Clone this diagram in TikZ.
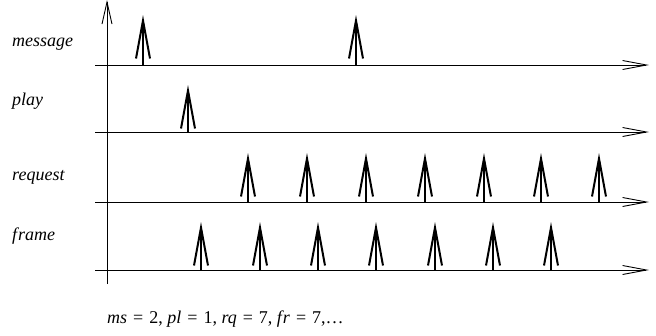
\documentclass[tikz,border=0pt]{standalone}
\usepackage{fontspec}
\setmainfont{Liberation Serif}
\usetikzlibrary{arrows.meta}
\newcommand{\myeq}{\kern1.5pt{} = {}\kern1.5pt}
\begin{document}
\begin{tikzpicture}[x=1pt,y=-1pt,
  axis/.style={line width=1pt,-{Straight Barb[length=24pt,width=9pt,line width=0.9pt]}},
  vaxis/.style={line width=0.9pt,-{Straight Barb[length=22pt,width=10pt,line width=0.9pt]}},
  event/.style={line width=2pt,-{Straight Barb[length=38pt,width=14pt,line width=2pt]}},
  lab/.style={anchor=base west,inner sep=0pt,font=\fontsize{18}{20}\selectfont\itshape}]
\useasboundingbox (0,0) rectangle (656,335);
% vertical axis
\coordinate (v0) at (107,284);
\coordinate (v1) at (107,0);
\draw[vaxis] (v0) -- (v1);
% horizontal axes
\foreach \y/\n in {65/m,132/p,202/r,270/f}{
  \coordinate (\n0) at (95,\y);
  \coordinate (\n1) at (649,\y);
  \draw[axis] (\n0) -- (\n1);
}
% labels
\node[lab] (lm) at (12,46.5) {message};
\node[lab] (lp) at (12,105) {play};
\node[lab] (lr) at (12,180.5) {request};
\node[lab] (lf) at (12,240) {f\kern1pt rame};
% events
\foreach \x in {143,356}{\draw[event] (\x,65) -- (\x,15);}
\foreach \x in {188}{\draw[event] (\x,132) -- (\x,85);}
\foreach \x in {248,307,366,425,484,541,599}{\draw[event] (\x,202) -- (\x,153);}
\foreach \x in {201,260,318,376,435,493,551}{\draw[event] (\x,270) -- (\x,222);}
% caption
\node[anchor=base west,inner sep=0pt,font=\fontsize{18}{20}\selectfont] (cap) at (107,323)
  {\textit{ms}\myeq 2, \textit{pl}\myeq 1, \textit{rq}\myeq 7, \textit{f\kern1pt r}\myeq 7,\dots};
\end{tikzpicture}
\end{document}
